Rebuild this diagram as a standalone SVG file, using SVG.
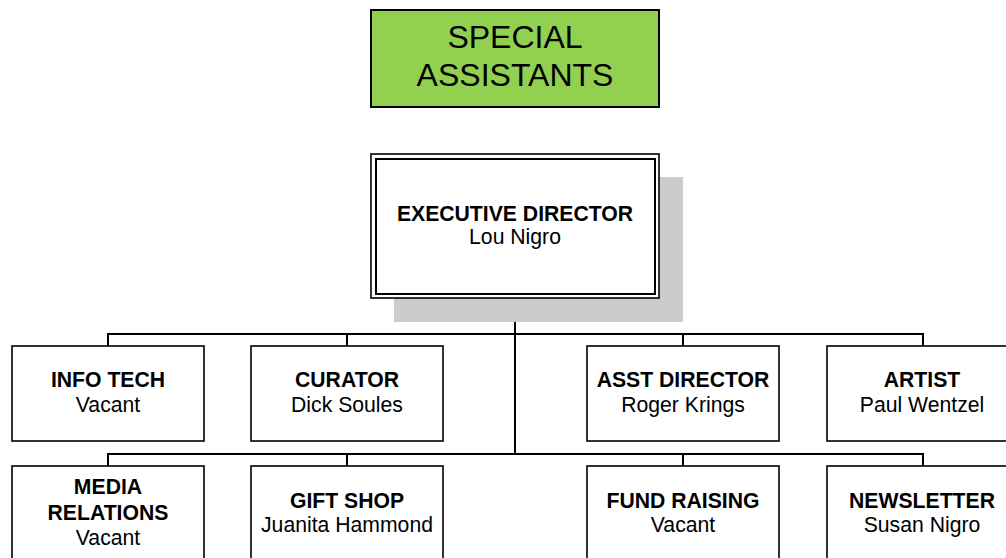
<svg xmlns="http://www.w3.org/2000/svg" width="1006" height="558" viewBox="0 0 1006 558">
<style>
.box{fill:#fff;stroke:#000;stroke-width:1.6}
.conn{fill:none;stroke:#000;stroke-width:2}
text{font-family:"Liberation Sans",Arial,sans-serif;text-anchor:middle;fill:#000}
.t{font-weight:bold;font-size:21.2px}
.n{font-size:21.2px}
</style>
<rect width="1006" height="558" fill="#fff"/>
<g id="special-assistants">
<rect x="371" y="10" width="288" height="97" fill="#92D050" stroke="#000" stroke-width="2"/>
<text x="515" y="48" font-size="32">SPECIAL</text>
<text x="515" y="86" font-size="32">ASSISTANTS</text>
</g>
<g id="connectors" class="conn">
<line x1="515" y1="298" x2="515" y2="454"/>
<path d="M108 346V334H923V346"/>
<line x1="347" y1="334" x2="347" y2="346"/>
<line x1="683" y1="334" x2="683" y2="346"/>
<path d="M108 466V454H923V466"/>
<line x1="347" y1="454" x2="347" y2="466"/>
<line x1="683" y1="454" x2="683" y2="466"/>
</g>
<g id="executive-director">
<rect x="394" y="177" width="289" height="145" fill="#CCCCCC"/>
<rect x="371" y="154" width="288" height="144" fill="#fff" stroke="#000" stroke-width="1.6"/>
<rect x="376" y="159" width="279" height="135" fill="none" stroke="#000" stroke-width="2"/>
<text class="t" x="515" y="221">EXECUTIVE DIRECTOR</text>
<text class="n" x="515" y="244">Lou Nigro</text>
</g>
<g id="info-tech">
<rect class="box" x="12" y="346" width="192" height="95"/>
<text class="t" x="108" y="387">INFO TECH</text>
<text class="n" x="108" y="412">Vacant</text>
</g>
<g id="curator">
<rect class="box" x="251" y="346" width="192" height="95"/>
<text class="t" x="347" y="387">CURATOR</text>
<text class="n" x="347" y="412">Dick Soules</text>
</g>
<g id="asst-director">
<rect class="box" x="587" y="346" width="192" height="95"/>
<text class="t" x="683" y="387">ASST DIRECTOR</text>
<text class="n" x="683" y="412">Roger Krings</text>
</g>
<g id="artist">
<rect class="box" x="827" y="346" width="192" height="95"/>
<text class="t" x="922" y="387">ARTIST</text>
<text class="n" x="922" y="412">Paul Wentzel</text>
</g>
<g id="media-relations">
<rect class="box" x="12" y="466" width="192" height="100"/>
<text class="t" x="108" y="494">MEDIA</text>
<text class="t" x="108" y="520">RELATIONS</text>
<text class="n" x="108" y="545">Vacant</text>
</g>
<g id="gift-shop">
<rect class="box" x="251" y="466" width="192" height="100"/>
<text class="t" x="347" y="508">GIFT SHOP</text>
<text class="n" x="347" y="532">Juanita Hammond</text>
</g>
<g id="fund-raising">
<rect class="box" x="587" y="466" width="192" height="100"/>
<text class="t" x="683" y="508">FUND RAISING</text>
<text class="n" x="683" y="532">Vacant</text>
</g>
<g id="newsletter">
<rect class="box" x="827" y="466" width="192" height="100"/>
<text class="t" x="922" y="508">NEWSLETTER</text>
<text class="n" x="922" y="532">Susan Nigro</text>
</g>
</svg>
